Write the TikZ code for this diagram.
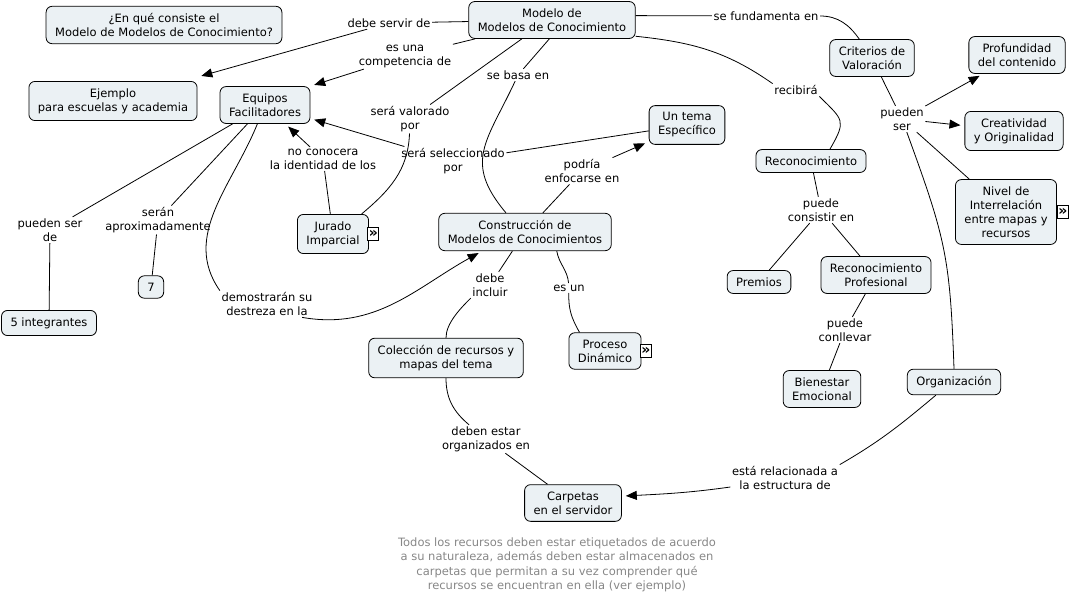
\documentclass[tikz,border=0pt]{standalone}
\usepackage{fontspec}
\setmainfont{DejaVu Sans}
\usetikzlibrary{arrows.meta}
\definecolor{conceptfill}{RGB}{235,241,244}
\definecolor{notegray}{RGB}{135,135,135}
\tikzset{
  concept/.style={draw=black, line width=0.8pt, rounded corners=6pt, fill=conceptfill, align=center, inner xsep=9pt, inner ysep=7pt, font=\fontsize{11.5}{14}\selectfont},
  phrase/.style={align=center, inner sep=1.5pt, font=\fontsize{11.5}{14}\selectfont},
  link/.style={line width=0.8pt},
  arrowlink/.style={link, -{Triangle[length=11pt,width=9pt]}, shorten >=4pt},
  moreicon/.style={draw=black, line width=0.6pt, fill=white, inner sep=0pt, minimum width=11pt, minimum height=13pt, font=\fontsize{14}{14}\selectfont\bfseries}
}
\begin{document}
\begin{tikzpicture}[x=1pt,y=1pt]
\useasboundingbox (0,0) rectangle (1070,-605);

\node[concept] (pregunta) at (164,-25) {¿En qué consiste el\\Modelo de Modelos de Conocimiento?};
\node[concept] (modelo) at (552,-20) {Modelo de\\Modelos de Conocimiento};
\node[concept] (ejemplo) at (113,-101) {Ejemplo\\para escuelas y academia};
\node[concept] (equipos) at (265,-105) {Equipos\\Facilitadores};
\node[concept] (criterios) at (872,-58) {Criterios de\\Valoración};
\node[concept] (profundidad) at (1017,-55) {Profundidad\\del contenido};
\node[concept] (creatividad) at (1014,-131) {Creatividad\\y Originalidad};
\node[concept] (nivel) at (1006,-212) {Nivel de\\Interrelación\\entre mapas y\\recursos};
\node[concept] (tema) at (687,-125) {Un tema\\Específico};
\node[concept] (reconoc) at (811,-161) {Reconocimiento};
\node[concept] (jurado) at (333,-234) {Jurado\\Imparcial};
\node[concept] (construccion) at (525,-232) {Construcción de\\Modelos de Conocimientos};
\node[concept] (siete) at (151,-287) {7};
\node[concept] (cinco) at (49,-323) {5 integrantes};
\node[concept] (premios) at (759,-282) {Premios};
\node[concept] (recprof) at (876,-275) {Reconocimiento\\Profesional};
\node[concept] (coleccion) at (446,-358) {Colección de recursos y\\mapas del tema};
\node[concept] (proceso) at (605,-351) {Proceso\\Dinámico};
\node[concept] (bienestar) at (822,-389) {Bienestar\\Emocional};
\node[concept] (organizacion) at (954,-382) {Organización};
\node[concept] (carpetas) at (573,-503) {Carpetas\\en el servidor};

\node[moreicon, anchor=west] (juradomas) at ([xshift=-1.5pt]jurado.east) {»};
\node[moreicon, anchor=west] (procesomas) at ([xshift=-1.5pt]proceso.east) {»};
\node[moreicon, anchor=west] (nivelmas) at (nivel.east) {»};

% linking phrases
\node[phrase] (debeservir) at (389,-23) {debe servir de};
\node[phrase] (competencia) at (405,-56) {es una\\competencia de};
\node[phrase] (sebasa) at (518,-75) {se basa en};
\node[phrase] (valorado) at (410,-119) {será valorado\\por};
\node[phrase] (fundamenta) at (766,-16) {se fundamenta en};
\node[phrase] (recibira) at (796,-90) {recibirá};
\node[phrase] (puedenser) at (902,-119) {pueden\\ser};
\node[phrase] (seleccionado) at (453,-161) {será seleccionado\\por};
\node[phrase] (noconoce) at (323,-159) {no conocera\\la identidad de los};
\node[phrase] (podria) at (582,-171) {podría\\enfocarse en};
\node[phrase] (consistir) at (821,-210) {puede\\consistir en};
\node[phrase] (puedende) at (50,-230) {pueden ser\\de};
\node[phrase] (seran) at (158,-220) {serán\\aproximadamente};
\node[phrase] (demostraran) at (267,-304) {demostrarán su\\destreza en la};
\node[phrase] (debeincluir) at (490,-285) {debe\\incluir};
\node[phrase] (esun) at (569,-288) {es un};
\node[phrase] (conllevar) at (845,-330) {puede\\conllevar};
\node[phrase] (organizados) at (486,-439) {deben estar\\organizados en};
\node[phrase] (relacionada) at (785,-478) {está relacionada a\\la estructura de};

\node[align=center, inner sep=0pt, text=notegray, font=\fontsize{11.5}{14.5}\selectfont] (nota) at (557,-565)
  {Todos los recursos deben estar etiquetados de acuerdo\\a su naturaleza, además deben estar almacenados en\\carpetas que permitan a su vez comprender qué\\recursos se encuentran en ella (ver ejemplo)};

% connectors
\draw[link] (modelo) -- (debeservir);
\draw[arrowlink] (debeservir) -- ([yshift=4pt]ejemplo.north east);
\draw[link] (modelo) -- (competencia);
\draw[arrowlink] (competencia) -- (equipos.north east);
\draw[link] (modelo.-98) -- (sebasa);
\draw[link] (sebasa) to[out=-115,in=130,looseness=1.3] ([xshift=-19pt]construccion.north);
\draw[link] (modelo.-148) -- (valorado);
\draw[link] (valorado) to[out=-92,in=40] (jurado.35);
\draw[link] (modelo.3) -- (fundamenta);
\draw[link] (fundamenta) to[out=0,in=125] (criterios.124);
\draw[link] (modelo.-11) to[out=-6,in=145] (recibira.north west);
\draw[link] (recibira.south east) to[out=-45,in=60,looseness=1.6] (reconoc.32);

\draw[link] (criterios) -- (puedenser);
\draw[arrowlink] (puedenser) -- (profundidad);
\draw[arrowlink] (puedenser) -- (creatividad);
\draw[link] (puedenser) -- (nivel);
\draw[link] (puedenser) to[out=-70,in=92,looseness=1.2] (organizacion.north);

\draw[link] (tema) -- (seleccionado);
\draw[arrowlink] (seleccionado) -- (equipos);
\draw[arrowlink] (noconoce) -- (equipos);
\draw[link] (noconoce) -- (jurado);
\draw[link] (construccion) -- (podria);
\draw[arrowlink] (podria) -- (tema);

\draw[link] (equipos) -- (puedende);
\draw[link] (puedende) -- (cinco);
\draw[link] (equipos) -- (seran);
\draw[link] (seran) -- (siete);
\draw[link] (equipos.-112) to[out=-112,in=125] (demostraran.north west);
\draw[arrowlink] ([xshift=-12pt]demostraran.south east) to[out=-10,in=-151] (construccion.-156);

\draw[link] (construccion) -- (debeincluir);
\draw[link] (debeincluir.south west) to[out=-135,in=90,looseness=0.8] (coleccion.north);
\draw[link] (construccion.-31) to[out=-80,in=95] (esun);
\draw[link] (esun) to[out=-92,in=120] ([xshift=11pt]proceso.north west);

\draw[link] (reconoc) -- (consistir);
\draw[link] (consistir) -- (premios);
\draw[link] (consistir) -- (recprof);
\draw[link] (recprof) -- (conllevar);
\draw[link] (conllevar) -- (bienestar);

\draw[link] (coleccion.south) to[out=-90,in=140] (organizados);
\draw[link] (organizados) -- (carpetas);
\draw[link] (organizacion.-144) to[out=-140,in=30] (relacionada.north east);
\draw[arrowlink] ([yshift=-9pt]relacionada.west) to[out=188,in=3] (carpetas.8);
\end{tikzpicture}
\end{document}
